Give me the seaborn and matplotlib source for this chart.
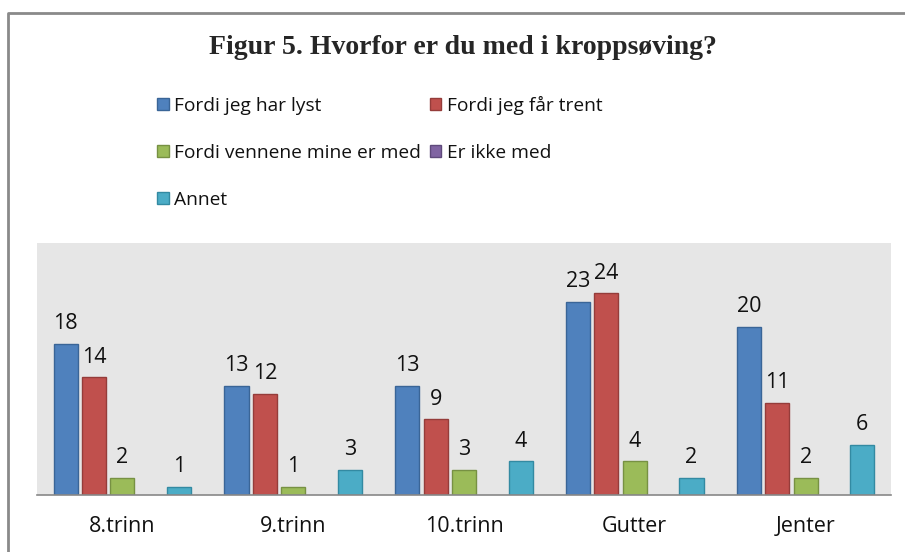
import pandas as pd
import numpy as np
import matplotlib
matplotlib.use('Agg')
import matplotlib.pyplot as plt
import matplotlib.patches as mpatches
from matplotlib.lines import Line2D
import seaborn as sns

# data
groups = ['8.trinn', '9.trinn', '10.trinn', 'Gutter', 'Jenter']
series = ['Fordi jeg har lyst', 'Fordi jeg får trent',
          'Fordi vennene mine er med', 'Er ikke med', 'Annet']
har_lyst = [18, 13, 13, 23, 20]
faar_trent = [14, 12, 9, 24, 11]
vennene = [2, 1, 3, 4, 2]
ikke_med = [np.nan, np.nan, np.nan, np.nan, np.nan]
annet = [1, 3, 4, 2, 6]

colors = ['#4F81BD', '#C0504D', '#9BBB59', '#8064A2', '#4BACC6']
edges = ['#3A6597', '#953C3A', '#779143', '#5F4A7B', '#338AA2']


def main():
    rows = []
    for s, vals in zip(series, [har_lyst, faar_trent, vennene, ikke_med, annet]):
        for g, v in zip(groups, vals):
            rows.append({'gruppe': g, 'serie': s, 'antall': v})
    df = pd.DataFrame(rows)

    sns.set_style('white')
    plt.rcParams['font.family'] = ['Open Sans', 'DejaVu Sans']

    fig = plt.figure(figsize=(9.05, 5.52), dpi=100)
    ax = fig.add_axes([37 / 905, 57 / 552, 854 / 905, 252 / 552])

    sns.barplot(data=df, x='gruppe', y='antall', hue='serie',
                order=groups, hue_order=series, palette=colors, saturation=1,
                width=0.83, gap=0.15, ax=ax, legend=False, errorbar=None)

    # edges per series + value labels
    for cont, ec in zip(ax.containers, edges):
        for bar in cont:
            bar.set_edgecolor(ec)
            bar.set_linewidth(1)
            h = bar.get_height()
            if np.isnan(h) or h == 0:
                continue
            ax.annotate(f'{int(h)}', (bar.get_x() + bar.get_width() / 2, h),
                        xytext=(0, 7), textcoords='offset points',
                        ha='center', va='bottom', fontsize=15.5, color='#111111')

    ax.set_facecolor('#E6E6E6')
    ax.set_ylim(0, 30)
    ax.set_xlim(-0.5, 4.5)
    ax.set_xlabel('')
    ax.set_ylabel('')
    ax.set_yticks([])
    for side in ['top', 'right', 'left']:
        ax.spines[side].set_visible(False)
    ax.spines['bottom'].set_color('#888888')
    ax.spines['bottom'].set_linewidth(1.2)
    ax.tick_params(axis='x', length=0, pad=15, labelsize=15.5, labelcolor='#111111')

    fig.text(463 / 905, 1 - 47 / 552, 'Figur 5. Hvorfor er du med i kroppsøving?',
             ha='center', va='center', fontsize=20, fontweight='bold',
             family=['Liberation Serif', 'DejaVu Serif'])

    # legend, row-wise order in two columns
    handles = [mpatches.Patch(facecolor=c, edgecolor=e, label=s)
               for s, c, e in zip(series, colors, edges)]
    order = [0, 2, 4, 1, 3]
    leg = fig.legend([handles[i] for i in order], [series[i] for i in order],
                     ncol=2, loc='upper left', bbox_to_anchor=(157 / 905, 1 - 96 / 552),
                     frameon=False, fontsize=13.8, handlelength=0.6, handleheight=0.6,
                     handletextpad=0.3, columnspacing=0.45, labelspacing=1.5,
                     borderaxespad=0, borderpad=0)
    for t in leg.get_texts():
        t.set_color('#111111')

    # outer frame (top and left edge visible)
    fig.add_artist(Line2D([8 / 905, 8 / 905, 1.0], [0.0, 1 - 13 / 552, 1 - 13 / 552],
                          transform=fig.transFigure, color='#8a8a8a', lw=2))

    fig.savefig('out.png', dpi=100)


if __name__ == '__main__':
    main()
